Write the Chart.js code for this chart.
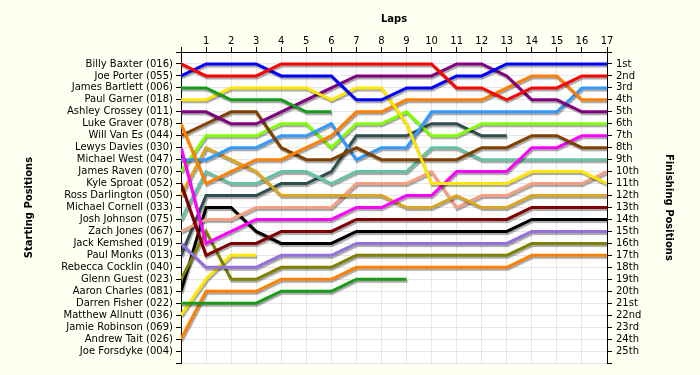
<!DOCTYPE html>
<html>
<head>
<meta charset="utf-8">
<title>Lap Chart</title>
<script src="https://cdn.jsdelivr.net/npm/chart.js@4.4.1/dist/chart.umd.min.js"></script>
<style>
  html, body { margin: 0; padding: 0; background: #fffff2; }
  #wrap { width: 700px; height: 375px; }
</style>
</head>
<body>
<div id="wrap"><canvas id="lapChart"></canvas></div>
<script>
// ── Data ────────────────────────────────────────────────────────────
const laps = [0, 1, 2, 3, 4, 5, 6, 7, 8, 9, 10, 11, 12, 13, 14, 15, 16, 17];

const startingGrid = [
  'Billy Baxter (016)', 'Joe Porter (055)', 'James Bartlett (006)', 'Paul Garner (018)',
  'Ashley Crossey (011)', 'Luke Graver (078)', 'Will Van Es (044)', 'Lewys Davies (030)',
  'Michael West (047)', 'James Raven (070)', 'Kyle Sproat (052)', 'Ross Darlington (050)',
  'Michael Cornell (033)', 'Josh Johnson (075)', 'Zach Jones (067)', 'Jack Kemshed (019)',
  'Paul Monks (013)', 'Rebecca Cocklin (040)', 'Glenn Guest (023)', 'Aaron Charles (081)',
  'Darren Fisher (022)', 'Matthew Allnutt (036)', 'Jamie Robinson (069)', 'Andrew Tait (026)',
  'Joe Forsdyke (004)'
];

const finishLabels = [
  '1st', '2nd', '3rd', '4th', '5th', '6th', '7th', '8th', '9th', '10th', '11th', '12th',
  '13th', '14th', '15th', '16th', '17th', '18th', '19th', '20th', '21st', '22nd', '23rd',
  '24th', '25th'
];

// position at each lap (index = lap); shorter arrays = retired
const billyBaxter    = [1, 2, 2, 2, 1, 1, 1, 1, 1, 1, 1, 3, 3, 4, 3, 3, 2, 2];
const joePorter      = [2, 1, 1, 1, 2, 2, 2, 4, 4, 3, 3, 2, 2, 1, 1, 1, 1, 1];
const jamesBartlett  = [3, 3, 4, 4, 4, 5, 5];
const paulGarner     = [4, 4, 3, 3, 3, 3, 4, 3, 3, 6, 11, 11, 11, 11, 10, 10, 10, 11];
const ashleyCrossey  = [5, 5, 6, 6, 5, 4, 3, 2, 2, 2, 2, 1, 1, 2, 4, 4, 5, 5];
const lukeGraver     = [6, 11, 10, 9, 9, 8, 7, 5, 5, 4, 4, 4, 4, 3, 2, 2, 4, 4];
const willVanEs      = [7, 6, 5, 5, 8, 9, 9, 8, 9, 9, 9, 9, 8, 8, 7, 7, 8, 8];
const lewysDavies    = [8, 16, 15, 14, 14, 14, 14, 13, 13, 12, 12, 10, 10, 10, 8, 8, 7, 7];
const michaelWest    = [9, 9, 8, 8, 7, 7, 6, 9, 8, 8, 5, 5, 5, 5, 5, 5, 3, 3];
const jamesRaven     = [10, 7, 7, 7, 6, 6, 8, 6, 6, 5, 7, 7, 6, 6, 6, 6, 6, 6];
const kyleSproat     = [11, 17, 16, 16, 15, 15, 15, 14, 14, 14, 14, 14, 14, 14, 13, 13, 13, 13];
const rossDarlington = [12, 8, 9, 10, 12, 12, 12, 12, 12, 13, 13, 12, 13, 13, 12, 12, 12, 12];
const joshJohnson    = [14, 10, 11, 11, 10, 10, 11, 10, 10, 10, 8, 8, 9, 9, 9, 9, 9, 9];
const zachJones      = [15, 14, 14, 13, 13, 13, 13, 11, 11, 11, 10, 13, 12, 12, 11, 11, 11, 10];
const jackKemshed    = [16, 18, 18, 18, 17, 17, 17, 16, 16, 16, 16, 16, 16, 16, 15, 15, 15, 15];
const paulMonks      = [17, 12, 12, 12, 11, 11, 10, 7, 7, 7, 6, 6, 7, 7];
const glennGuest     = [19, 15, 19, 19, 18, 18, 18, 17, 17, 17, 17, 17, 17, 17, 16, 16, 16, 16];
const aaronCharles   = [20, 13, 13, 15, 16, 16, 16, 15, 15, 15, 15, 15, 15, 15, 14, 14, 14, 14];
const darrenFisher   = [21, 21, 21, 21, 20, 20, 20, 19, 19, 19];
const matthewAllnutt = [22, 19, 17, 17];
const andrewTait     = [24, 20, 20, 20, 19, 19, 19, 18, 18, 18, 18, 18, 18, 18, 17, 17, 17, 17];

const series = [
  [billyBaxter, '#ff0000'], [joePorter, '#0000ff'], [jamesBartlett, '#1a9a1a'],
  [paulGarner, '#ffe600'], [ashleyCrossey, '#800080'], [lukeGraver, '#ff8000'],
  [willVanEs, '#804000'], [lewysDavies, '#ff00ff'], [michaelWest, '#3399ff'],
  [jamesRaven, '#80ff00'], [kyleSproat, '#800000'], [rossDarlington, '#daa520'],
  [joshJohnson, '#66c2a5'], [zachJones, '#f4a080'], [jackKemshed, '#9370db'],
  [paulMonks, '#2f4f4f'], [glennGuest, '#808000'], [aaronCharles, '#000000'],
  [darrenFisher, '#1a9a1a'], [matthewAllnutt, '#ffe600'], [andrewTait, '#ff8000']
];

// ── Plugins ─────────────────────────────────────────────────────────
const plotBackground = {
  id: 'plotBackground',
  beforeDraw(chart) {
    const { ctx, chartArea: a } = chart;
    ctx.save();
    ctx.fillStyle = '#ffffff';
    ctx.fillRect(a.left, a.top, a.right - a.left, a.bottom - a.top);
    ctx.restore();
  }
};

// grey drop shadow under each line
const lineShadow = {
  id: 'lineShadow',
  beforeDatasetDraw(chart) {
    const ctx = chart.ctx;
    ctx.save();
    ctx.shadowColor = 'rgba(0,0,0,0.35)';
    ctx.shadowOffsetX = 1;
    ctx.shadowOffsetY = 2;
    ctx.shadowBlur = 1;
  },
  afterDatasetDraw(chart) {
    chart.ctx.restore();
  }
};

// ── Chart ───────────────────────────────────────────────────────────
Chart.defaults.font.family = 'DejaVu Sans';
Chart.defaults.font.size = 10;
Chart.defaults.color = '#000';

const gridColor = '#e6e6e6';

new Chart(document.getElementById('lapChart'), {
  type: 'line',
  data: {
    datasets: series.map(([pos, color]) => ({
      data: pos.map((p, i) => ({ x: laps[i], y: p })),
      borderColor: color,
      borderWidth: 3,
      pointRadius: 0,
      tension: 0,
      fill: false
    }))
  },
  options: {
    responsive: true,
    maintainAspectRatio: false,
    animation: false,
    layout: { padding: { bottom: 12 } },
    plugins: { legend: { display: false }, tooltip: { enabled: false } },
    scales: {
      x: {
        type: 'linear',
        position: 'top',
        min: 0,
        max: 17,
        afterFit: s => { s.height = 52; },
        ticks: { stepSize: 1, autoSkip: false, maxRotation: 0, padding: 0,
                 callback: v => (v === 0 ? '' : v) },
        grid: { color: gridColor, tickColor: '#000', tickLength: 5 },
        border: { color: '#000' },
        title: { display: true, text: 'Laps', font: { weight: 'bold', size: 10 },
                 padding: { top: 13, bottom: 0 } }
      },
      y: {
        type: 'linear',
        position: 'left',
        reverse: true,
        min: 0,
        max: 26,
        afterFit: s => { s.width = 181; },
        ticks: { stepSize: 1, autoSkip: false, padding: 3,
                 callback: v => startingGrid[v - 1] || '' },
        grid: { color: gridColor, tickColor: '#000', tickLength: 5 },
        border: { color: '#000' },
        title: { display: true, text: 'Starting Positions', font: { weight: 'bold', size: 10 },
                 padding: { top: 23, bottom: 0 } }
      },
      y2: {
        type: 'linear',
        position: 'right',
        reverse: true,
        min: 0,
        max: 26,
        afterFit: s => { s.width = 93; },
        ticks: { stepSize: 1, autoSkip: false, padding: 4,
                 callback: v => finishLabels[v - 1] || '' },
        grid: { drawOnChartArea: false, color: '#000', tickLength: 5 },
        border: { color: '#000' },
        title: { display: true, text: 'Finishing Positions', font: { weight: 'bold', size: 10 },
                 padding: { top: 25, bottom: 0 } }
      }
    }
  },
  plugins: [plotBackground, lineShadow]
});
</script>
</body>
</html>
